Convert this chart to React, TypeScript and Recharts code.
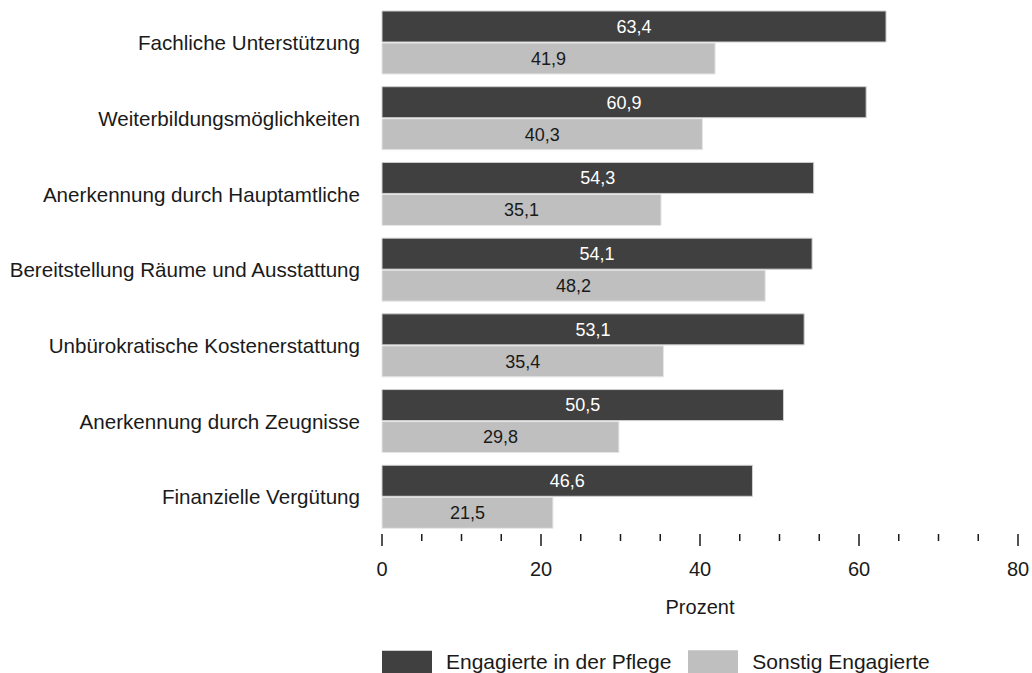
import { BarChart, Bar, XAxis, YAxis, Legend, LabelList, Label } from 'recharts';

document.body.style.margin = '0';

const categories = [
  'Fachliche Unterstützung',
  'Weiterbildungsmöglichkeiten',
  'Anerkennung durch Hauptamtliche',
  'Bereitstellung Räume und Ausstattung',
  'Unbürokratische Kostenerstattung',
  'Anerkennung durch Zeugnisse',
  'Finanzielle Vergütung',
];
const pflege = [63.4, 60.9, 54.3, 54.1, 53.1, 50.5, 46.6];
const sonstig = [41.9, 40.3, 35.1, 48.2, 35.4, 29.8, 21.5];
const xTicks = [0, 5, 10, 15, 20, 25, 30, 35, 40, 45, 50, 55, 60, 65, 70, 75, 80];

const data = categories.map((name, i) => ({ name, pflege: pflege[i], sonstig: sonstig[i] }));

const FONT = '"Liberation Sans", Arial, sans-serif';
const TEXT = '#1a1a1a';
const DARK = '#404040';
const LIGHT = '#bfbfbf';

const fmt = (v: unknown) => Number(v).toFixed(1).replace('.', ',');

// every 5 gets a short mark, multiples of 20 a long one plus its number
function XTick({ x, y, payload }: any) {
  const major = payload.value % 20 === 0;
  return (
    <g>
      <line x1={x} x2={x} y1={y - 1} y2={y + (major ? 11 : 6)} stroke={TEXT} strokeWidth={1.5} />
      {major && (
        <text x={x} y={y + 34} textAnchor="middle" dominantBaseline="central" fontSize={20} fill={TEXT}>
          {payload.value}
        </text>
      )}
    </g>
  );
}

function LegendContent({ payload }: any) {
  return (
    <div style={{ display: 'flex', alignItems: 'center', fontFamily: FONT, fontSize: 21, color: TEXT }}>
      {(payload || []).map((p: any, i: number) => (
        <div key={i} style={{ display: 'flex', alignItems: 'center', marginRight: 17 }}>
          <div style={{ width: 50, height: 24, background: p.color, marginRight: 14, boxSizing: 'border-box', borderTop: '1px solid #cfcfcf' }} />
          <span>{p.value}</span>
        </div>
      ))}
    </div>
  );
}

export default function App() {
  return (
    <BarChart
      width={1032}
      height={673}
      data={data}
      layout="vertical"
      margin={{ top: 5, right: 14, bottom: 0, left: 0 }}
      barCategoryGap={6}
      barGap={1}
      style={{ fontFamily: FONT }}
    >
      <XAxis
        type="number"
        domain={[0, 80]}
        ticks={xTicks}
        interval={0}
        height={138}
        axisLine={false}
        tickLine={false}
        tickSize={0}
        tickMargin={0}
        tick={<XTick />}
      >
        <Label value="Prozent" position="insideTop" offset={65} fontSize={20} fill={TEXT} />
      </XAxis>
      <YAxis
        type="category"
        dataKey="name"
        width={382}
        axisLine={false}
        tickLine={false}
        tickSize={0}
        tickMargin={22}
        tick={{ fontSize: 20.6, fill: TEXT }}
        interval={0}
      />
      <Legend
        layout="horizontal"
        verticalAlign="middle"
        align="center"
        wrapperStyle={{ top: 650, left: 382 }}
        content={<LegendContent />}
      />
      <Bar dataKey="pflege" name="Engagierte in der Pflege" fill={DARK} stroke="#cfcfcf" strokeWidth={1} isAnimationActive={false}>
        <LabelList dataKey="pflege" position="center" formatter={fmt} fill="#ffffff" fontSize={18} />
      </Bar>
      <Bar dataKey="sonstig" name="Sonstig Engagierte" fill={LIGHT} stroke="#e6e6e6" strokeWidth={1} isAnimationActive={false}>
        <LabelList dataKey="sonstig" position="center" formatter={fmt} fill={TEXT} fontSize={18} />
      </Bar>
    </BarChart>
  );
}
